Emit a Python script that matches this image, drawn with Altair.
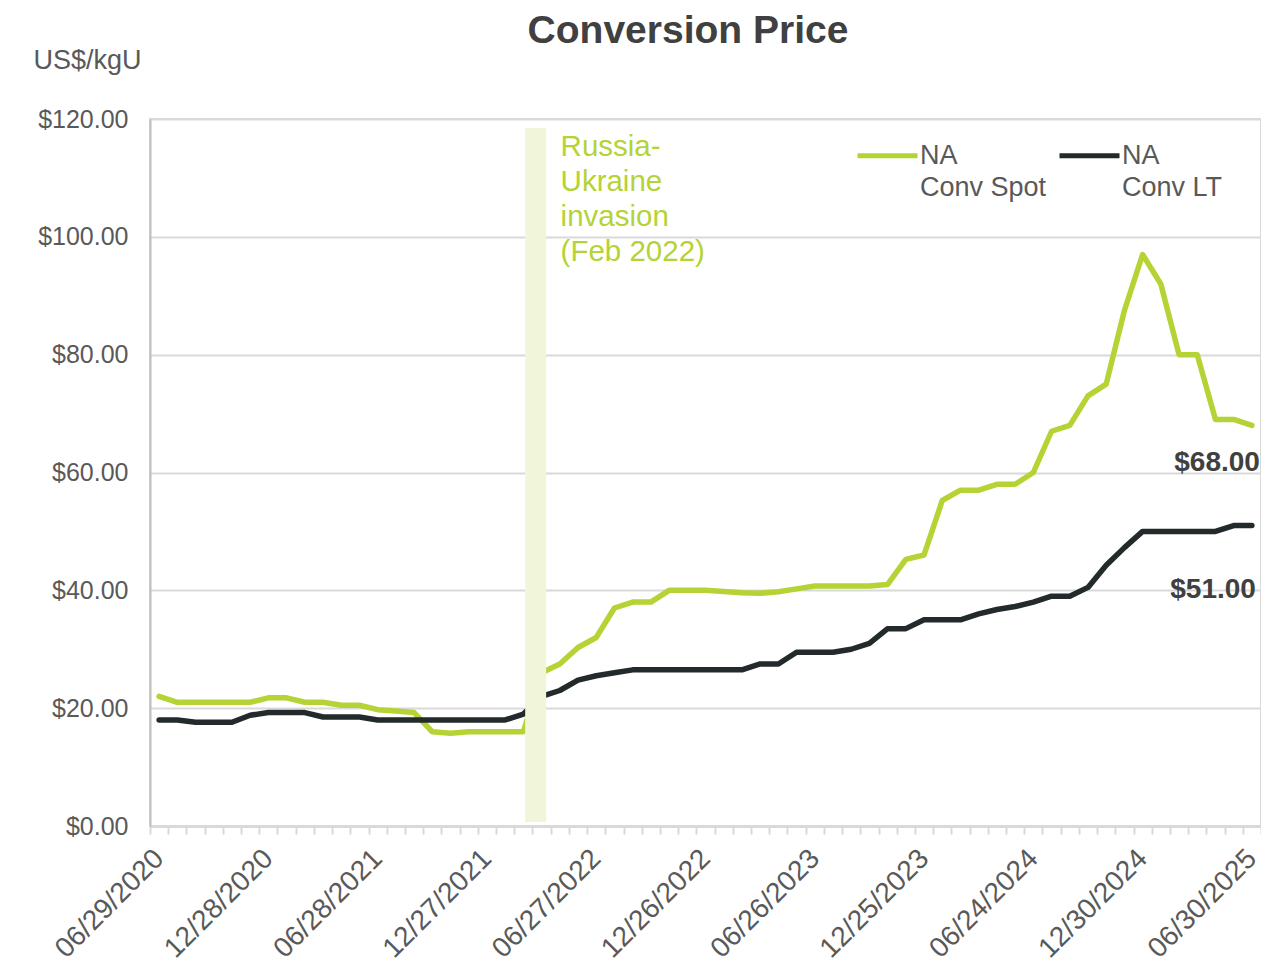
import altair as alt
import pandas as pd

# ---- categories: last Monday of each month, Jun 2020 .. Jun 2025 ----
months = pd.period_range("2020-06", "2025-06", freq="M")
dates = []
for m in months:
    end = m.end_time.normalize()
    dates.append((end - pd.Timedelta(days=end.weekday())).strftime("%m/%d/%Y"))

label_dates = ["06/29/2020", "12/28/2020", "06/28/2021", "12/27/2021", "06/27/2022",
               "12/26/2022", "06/26/2023", "12/25/2023", "06/24/2024", "12/30/2024",
               "06/30/2025"]

series_names = ["NA Conv Spot", "NA Conv LT"]

spot = [22, 21, 21, 21, 21, 21, 21.75, 21.75, 21, 21,
        20.5, 20.5, 19.75, 19.5, 19.25, 16, 15.75, 16, 16, 16,
        16, 26, 27.5, 30.3, 32, 37, 38, 38, 40, 40,
        40, 39.8, 39.6, 39.5, 39.75, 40.25, 40.75, 40.75, 40.75, 40.75,
        41, 45.25, 46, 55.25, 57, 57, 58, 58, 60, 67,
        68, 73, 75, 87.5, 97, 92, 80, 80, 69, 69,
        68]

lt = [18, 18, 17.6, 17.6, 17.6, 18.8, 19.25, 19.25, 19.25, 18.5,
      18.5, 18.5, 18, 18, 18, 18, 18, 18, 18, 18,
      19, 22, 23, 24.75, 25.5, 26, 26.5, 26.5, 26.5, 26.5,
      26.5, 26.5, 26.5, 27.5, 27.5, 29.5, 29.5, 29.5, 30, 31,
      33.5, 33.5, 35, 35, 35, 36, 36.75, 37.25, 38, 39,
      39, 40.5, 44.25, 47.25, 50, 50, 50, 50, 50, 51,
      51]

event_start = ["02/28/2022"]
event_end = ["03/28/2022"]
event_text = ["Russia-", "Ukraine", "invasion", "(Feb 2022)"]

GREEN = "#B5D335"
BLACK = "#222A2B"
BAND = "#F1F6DA"
GRID = "#D9D9D9"
TXT = "#595959"
DARK = "#404040"
FONT = "Liberation Sans, Arial, sans-serif"

df = pd.DataFrame({
    "date": dates + dates,
    "value": spot + lt,
    "series": [series_names[0]] * len(dates) + [series_names[1]] * len(dates),
})
df_last_spot = df[(df.series == series_names[0]) & (df.date == dates[-1])]
df_last_lt = df[(df.series == series_names[1]) & (df.date == dates[-1])]
df_event = pd.DataFrame({"start": event_start, "end": event_end})

label_js = "[" + ",".join("'%s'" % d for d in label_dates) + "]"

x_scale = alt.Scale(type="band", domain=dates, paddingInner=0, paddingOuter=0)
x_axis = alt.Axis(
    title=None, tickBand="extent", labelAngle=-45, labelAlign="right",
    labelBaseline="middle", labelExpr="indexof(%s, datum.label) >= 0 ? datum.label : ''" % label_js,
    labelFont=FONT, labelFontSize=28, labelColor=TXT, labelPadding=20,
    labelOverlap=False, labelBound=False,
    tickColor=GRID, tickSize=8, tickWidth=2, domainColor=GRID, domainWidth=3, grid=False,
)
y_scale = alt.Scale(domain=[0, 120], nice=False, zero=True)
y_axis = alt.Axis(
    values=[0, 20, 40, 60, 80, 100, 120], format="$.2f", title="US$/kgU",
    titleAngle=0, titleAlign="left", titleBaseline="middle", titleX=-117, titleY=-59,
    titleFont=FONT, titleFontSize=27, titleFontWeight="normal", titleColor=TXT,
    labelFont=FONT, labelFontSize=25, labelColor=TXT, labelPadding=22,
    ticks=False, domainColor="#BFBFBF", domainWidth=2, gridColor=GRID, gridWidth=2,
)

lines = alt.Chart(df).mark_line(strokeWidth=5.5, strokeJoin="round", strokeCap="round").encode(
    x=alt.X("date:O", bandPosition=0.5, scale=x_scale, axis=x_axis),
    y=alt.Y("value:Q", scale=y_scale, axis=y_axis),
    color=alt.Color("series:N", scale=alt.Scale(domain=series_names, range=[GREEN, BLACK]),
                    legend=alt.Legend(
                        title=None, orient="none", legendX=705, legendY=4,
                        direction="horizontal", symbolType="stroke", symbolSize=3600,
                        symbolStrokeWidth=5, labelFont=FONT, labelFontSize=27,
                        labelColor=TXT, labelOffset=0, columnPadding=2, padding=0,
                        labelLimit=0,
                        labelExpr="['NA', slice(datum.label, 3)]")),
    order=alt.Order("series:N", sort="descending"),
)

band = alt.Chart(df_event).mark_rect(color=BAND).encode(
    x=alt.X("start:O", bandPosition=0.6, scale=x_scale, axis=x_axis),
    x2=alt.X2("end", bandPosition=0.75),
    y=alt.value(9),
    y2=alt.value(703),
)

note = alt.Chart(df_event).mark_text(
    align="left", baseline="top", dx=19, font=FONT, fontSize=29.5, lineHeight=35,
    color=GREEN, text=event_text,
).encode(
    x=alt.X("end:O", bandPosition=0.5, scale=x_scale, axis=x_axis),
    y=alt.value(14),
)

end_spot = alt.Chart(df_last_spot).mark_text(
    align="right", baseline="middle", dx=8, dy=37.5, font=FONT, fontSize=28,
    fontWeight="bold", color=DARK,
).encode(
    x=alt.X("date:O", bandPosition=0.5, scale=x_scale, axis=x_axis),
    y=alt.Y("value:Q", scale=y_scale, axis=y_axis),
    text=alt.Text("value:Q", format="$.2f"),
)

end_lt = alt.Chart(df_last_lt).mark_text(
    align="right", baseline="middle", dx=4, dy=64.5, font=FONT, fontSize=28,
    fontWeight="bold", color=DARK,
).encode(
    x=alt.X("date:O", bandPosition=0.5, scale=x_scale, axis=x_axis),
    y=alt.Y("value:Q", scale=y_scale, axis=y_axis),
    text=alt.Text("value:Q", format="$.2f"),
)

chart = alt.layer(lines, band, note, end_spot, end_lt).properties(
    width=1111, height=707,
    padding={"left": 142, "top": 111, "right": 0, "bottom": 140},
    autosize=alt.AutoSizeParams(type="none"),
    title=alt.TitleParams("Conversion Price", font=FONT, fontSize=39, fontWeight="bold",
                          color=DARK, anchor="middle", dx=-17.5, dy=9),
).configure(
    style={"guide-label": {"lineHeight": 32}}
).configure_view(stroke=GRID, strokeWidth=2)

chart.save("out.html", embed_options={"renderer": "svg", "actions": False})
